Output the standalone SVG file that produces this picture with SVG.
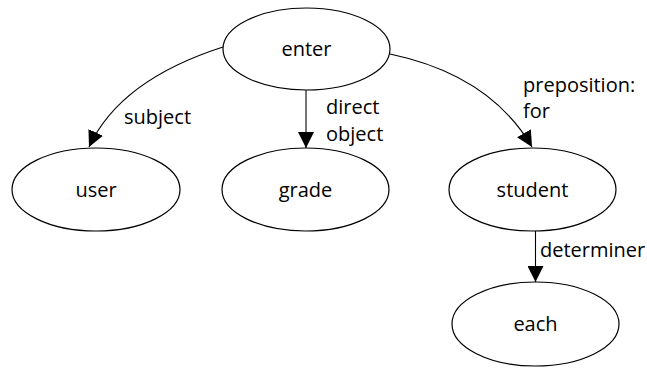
<svg xmlns="http://www.w3.org/2000/svg" width="647" height="369" viewBox="0 0 647 369">
  <style>
    .node ellipse { fill: #ffffff; stroke: #000000; stroke-width: 1.2; }
    .node text, .lbl { font-family: "Open Sans", "Liberation Sans", sans-serif; font-size: 20px; fill: #000000; }
    .node text { text-anchor: middle; }
    .edge { fill: none; stroke: #000000; stroke-width: 1.1; marker-end: url(#arrow); }
  </style>
  <defs>
    <marker id="arrow" markerUnits="userSpaceOnUse" markerWidth="16" markerHeight="16" viewBox="0 0 16 16" refX="16" refY="8" orient="auto">
      <path d="M0,0 L16,8 L0,16 Z" fill="#000000"/>
    </marker>
  </defs>

  <rect width="647" height="369" fill="#ffffff"/>

  <g id="connectors">
    <path class="edge" d="M223,47 Q120,80 89,147"/>
    <path class="edge" d="M306,90 L306,148"/>
    <path class="edge" d="M390,54 Q490,75 532,147"/>
    <path class="edge" d="M535.5,231 L535.5,282"/>
    <text class="lbl" x="124" y="124">subject</text>
    <text class="lbl" x="326" y="114">direct</text>
    <text class="lbl" x="326" y="141">object</text>
    <text class="lbl" x="523" y="92">preposition:</text>
    <text class="lbl" x="523" y="118">for</text>
    <text class="lbl" x="540" y="257">determiner</text>
  </g>

  <g id="node-enter" class="node">
    <ellipse cx="306.5" cy="49" rx="83.5" ry="41"/>
    <text x="306.5" y="56">enter</text>
  </g>
  <g id="node-user" class="node">
    <ellipse cx="96" cy="189.5" rx="84" ry="41.5"/>
    <text x="96" y="197">user</text>
  </g>
  <g id="node-grade" class="node">
    <ellipse cx="305.5" cy="189.5" rx="83.5" ry="41.5"/>
    <text x="305.5" y="197">grade</text>
  </g>
  <g id="node-student" class="node">
    <ellipse cx="532.5" cy="189.5" rx="83.5" ry="41.5"/>
    <text x="532.5" y="197">student</text>
  </g>
  <g id="node-each" class="node">
    <ellipse cx="535.5" cy="324" rx="83.5" ry="42"/>
    <text x="535.5" y="331">each</text>
  </g>
</svg>
